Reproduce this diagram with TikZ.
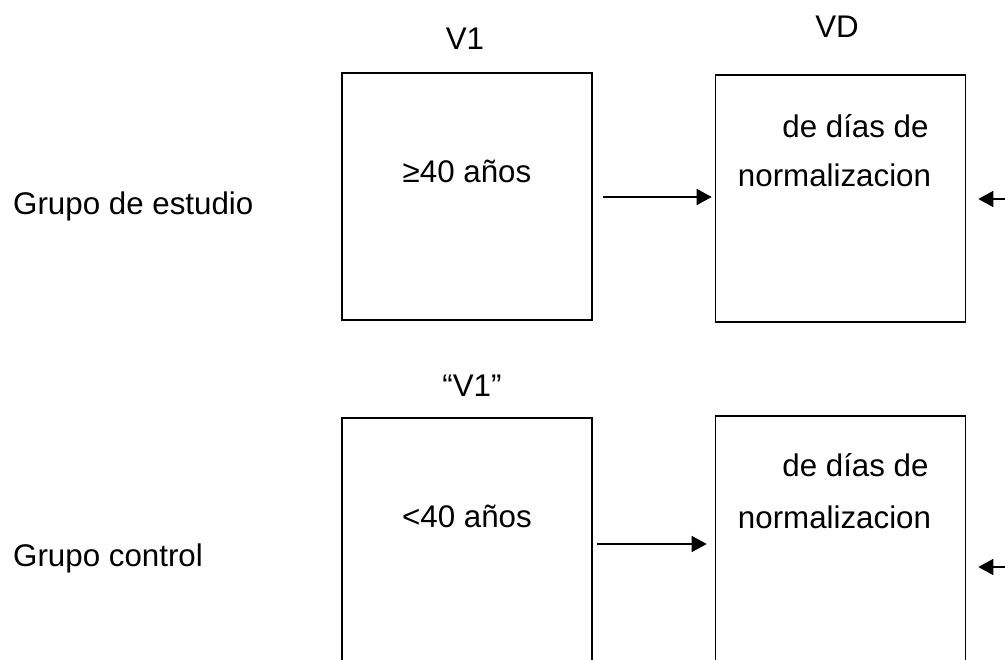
\documentclass[tikz,border=0pt]{standalone}
\usepackage{fontspec}
\setmainfont{Liberation Sans}
\usetikzlibrary{arrows.meta}
\begin{document}
\begin{tikzpicture}[x=1pt,y=-1pt,
  every node/.style={font=\fontsize{31.3}{37}\selectfont},
  lbl/.style={inner sep=0pt,anchor=base},
  box/.style={draw,line width=1.6pt,minimum width=250pt,minimum height=247pt,inner sep=0pt},
  arr/.style={line width=1.6pt,-{Triangle[length=15pt,width=16pt]}}]
\useasboundingbox (0,0) rectangle (1005,660);
\clip (0,0) rectangle (1005,660);

% row labels
\node[lbl,anchor=base west] (g1) at (13,215) {Grupo de estudio};
\node[lbl,anchor=base west] (g2) at (13,566) {Grupo control};

% column headings
\node[lbl] (h1) at (465,50) {V1};
\node[lbl] (h2) at (837,38) {VD};
\node[lbl] (h3) at (472,397) {“V1”};

% boxes
\node[box] (b1) at (467,196.5) {};
\node[box] (b2) at (840.5,198.5) {};
\node[box] (b3) at (467,541.5) {};
\node[box] (b4) at (840.5,539.5) {};

% box contents
\node[lbl] (t1) at (467,183) {≥40 años};
\node[lbl] (t2) at (467,527) {<40 años};
\node[lbl] (d1) at (855.5,138) {de días de};
\node[lbl] (n1) at (834.5,187) {normalizacion};
\node[lbl] (d2) at (855.5,477) {de días de};
\node[lbl] (n2) at (834.5,528) {normalizacion};

% connectors between the boxes
\draw[arr,shorten <=10pt,shorten >=3pt] ([yshift=-0.5pt]b1.east) -- ([yshift=-0.5pt]b1.east -| b2.west);
\draw[arr,shorten <=4pt,shorten >=8pt] ([yshift=-2.5pt]b3.east) -- ([yshift=-2.5pt]b3.east -| b4.west);

% arrows entering from the right edge
\coordinate (r1) at (1012,199);
\coordinate (r2) at (1012,567);
\coordinate (e1) at ([xshift=12pt]b2.east);
\coordinate (e2) at ([xshift=12pt]b4.east);
\draw[arr] (r1) -- (r1 -| e1);
\draw[arr] (r2) -- (r2 -| e2);
\end{tikzpicture}
\end{document}
